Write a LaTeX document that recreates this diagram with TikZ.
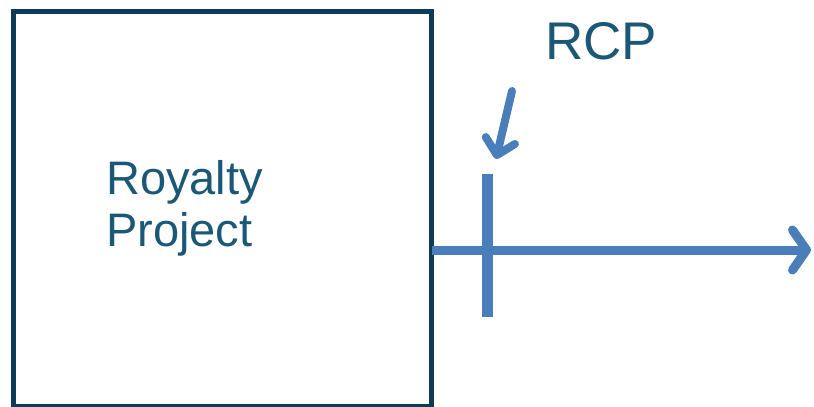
\documentclass[tikz,border=0pt]{standalone}
\usepackage{fontspec}
\setmainfont{Liberation Sans}
\usetikzlibrary{arrows.meta}
\definecolor{boxline}{HTML}{0E3B55}
\definecolor{txt}{HTML}{1B5877}
\definecolor{arr}{HTML}{4A7EBB}
\tikzset{
  framebox/.style={draw=boxline, line width=5pt, inner sep=0pt},
  bluearrow/.style={draw=arr, line width=9pt, -{Straight Barb[round, length=14pt, width=40pt]}},
  tickbar/.style={draw=arr, line width=10.5pt},
  smallarrow/.style={draw=arr, line width=8pt, line cap=round, -{Straight Barb[round, length=15pt, width=30pt]}},
  lbl/.style={text=txt, inner sep=0pt}
}
\begin{document}
\begin{tikzpicture}[x=1pt,y=-1pt]
\useasboundingbox (0,0) rectangle (814,407);
\node[framebox, minimum width=418pt, minimum height=395pt] (box) at (222.5,209) {};
\node[lbl, anchor=north west, align=left, font=\fontsize{47}{52}\selectfont] (proj) at (106,160) {Royalty\\Project};
\node[lbl, font=\fontsize{53}{60}\selectfont] (rcp) at (601,41) {RCP};
\coordinate (hstart) at (431.5,250);
\coordinate (hend) at (811,250);
\draw[bluearrow] (hstart) -- (hend);
\coordinate (btop) at (487.5,174);
\coordinate (bbot) at (487.5,317);
\draw[tickbar] (btop) -- (bbot);
\coordinate (sa) at (512,91);
\coordinate (sb) at (496,159);
\draw[smallarrow] (sa) -- (sb);
\end{tikzpicture}
\end{document}
